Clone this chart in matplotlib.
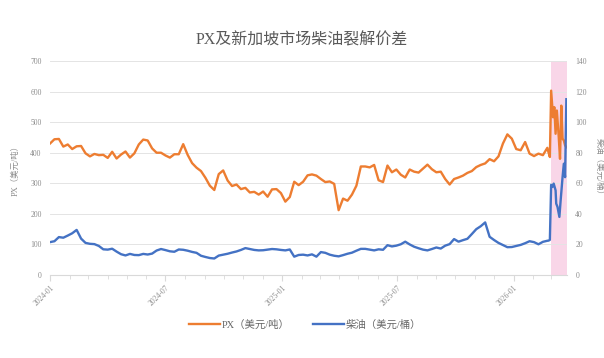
import matplotlib
matplotlib.use("Agg")
import matplotlib.pyplot as plt
import matplotlib.dates as mdates
from matplotlib.lines import Line2D
import pandas as pd

plt.rcParams['font.family'] = ['Liberation Serif', 'Noto Sans CJK SC', 'DejaVu Sans']

title = "PX及新加坡市场柴油裂解价差"
px_label = "PX（美元/吨）"
ds_label = "柴油（美元/桶）"

# weekly readings starting 2024-01-01
week_start = "2024-01-01"
px_weekly = [430, 444, 445, 420, 427, 412, 421, 422, 398, 388,
             396, 392, 393, 383, 403, 381, 394, 404, 384, 398,
             427, 443, 440, 414, 400, 400, 391, 384, 395, 395,
             428, 393, 366, 351, 340, 318, 292, 278, 330, 342,
             309, 291, 296, 281, 285, 270, 272, 263, 273, 256,
             280, 281, 268, 240, 255, 305, 294, 305, 326, 329,
             325, 314, 304, 306, 298, 212, 250, 243, 263, 292,
             355, 355, 352, 360, 310, 304, 358, 336, 345, 328,
             319, 345, 338, 335, 348, 361, 346, 336, 338, 314,
             296, 314, 319, 325, 334, 340, 353, 360, 365, 379,
             372, 388, 430, 460, 446, 412, 408, 435, 397, 389,
             397, 392, 416]
ds_weekly = [21.5, 22.1, 24.8, 24.4, 25.8, 27.3, 29.5, 23.8, 21.0, 20.4,
             20.2, 19.0, 16.8, 16.6, 17.2, 15.3, 13.6, 12.8, 13.8, 13.1,
             13.0, 13.8, 13.4, 14.0, 16.0, 17.0, 16.3, 15.5, 15.2, 16.7,
             16.5, 15.9, 15.1, 14.5, 12.6, 11.8, 11.1, 10.8, 12.7, 13.3,
             13.9, 14.7, 15.4, 16.4, 17.6, 17.0, 16.4, 16.1, 16.2, 16.6,
             17.0, 16.8, 16.4, 16.1, 16.7, 12.0, 13.1, 13.3, 12.8, 13.5,
             12.0, 15.0, 14.5, 13.3, 12.6, 12.2, 13.0, 13.9, 14.6, 15.9,
             17.1, 17.1, 16.6, 16.1, 16.8, 16.5, 19.5, 18.7, 19.2, 20.1,
             21.8, 20.0, 18.5, 17.5, 16.6, 16.1, 17.0, 18.0, 17.3, 19.2,
             20.2, 23.5, 21.8, 22.8, 23.7, 26.8, 30.0, 31.9, 34.4, 25.0,
             22.9, 21.0, 19.6, 18.2, 18.3, 19.0, 19.7, 20.8, 22.1, 21.5,
             20.1, 21.7, 22.4]

# daily readings around the March 2026 spike
px_spike_dates = ["2026-02-25", "2026-02-27", "2026-03-01", "2026-03-04", "2026-03-06",
                  "2026-03-08", "2026-03-10", "2026-03-13", "2026-03-15", "2026-03-17",
                  "2026-03-19", "2026-03-21", "2026-03-23", "2026-03-25"]
px_spike = [400, 386, 603, 516, 549, 462, 538, 451, 380, 554, 446, 440, 424, 418]
ds_spike_dates = ["2026-02-25", "2026-02-27", "2026-03-01", "2026-03-03", "2026-03-05",
                  "2026-03-08", "2026-03-09", "2026-03-11", "2026-03-14", "2026-03-16",
                  "2026-03-19", "2026-03-21", "2026-03-23", "2026-03-25"]
ds_spike = [22.5, 23.0, 59.0, 57.6, 59.8, 55.4, 46.7, 44.6, 38.0, 48.9, 64.0, 72.8, 64.0, 115.0]

highlight_start = "2026-02-28"
x_start, x_end = "2024-01-01", "2026-03-26"

weekly_dates = pd.date_range(week_start, periods=len(px_weekly), freq="7D")
px_dates = list(weekly_dates) + list(pd.to_datetime(px_spike_dates))
px_vals = px_weekly + px_spike
ds_dates = list(weekly_dates) + list(pd.to_datetime(ds_spike_dates))
ds_vals = ds_weekly + ds_spike

ORANGE = "#ED7D31"
BLUE = "#4472C4"
TXT = "#8C8C8C"
GRID = "#E4E4E4"

fig = plt.figure(figsize=(6.04, 3.58), dpi=100)
ax = fig.add_axes([50 / 604, 83 / 358, 517 / 604, 214 / 358])
ax2 = ax.twinx()

ax.axvspan(pd.Timestamp(highlight_start), pd.Timestamp(x_end), color="#F9D6E8", lw=0, zorder=0)
ax.plot(px_dates, px_vals, color=ORANGE, lw=1.7, zorder=3)
ax2.plot(ds_dates, ds_vals, color=BLUE, lw=1.7, zorder=3)

ax.set_xlim(pd.Timestamp(x_start), pd.Timestamp(x_end))
ax.set_ylim(0, 700)
ax2.set_ylim(0, 140)
ax.set_yticks(range(0, 701, 100))
ax2.set_yticks(range(0, 141, 20))
ax.grid(axis="y", color=GRID, lw=0.7)
ax.set_axisbelow(True)

ax.xaxis.set_major_locator(mdates.MonthLocator(bymonth=[1, 7]))
ax.xaxis.set_major_formatter(mdates.DateFormatter("%Y-%m"))
ax.xaxis.set_minor_locator(mdates.MonthLocator())
for lbl in ax.get_xticklabels():
    lbl.set_rotation(45)
    lbl.set_ha("right")
    lbl.set_rotation_mode("anchor")

for a in (ax, ax2):
    for s in a.spines.values():
        s.set_visible(False)
ax.spines["bottom"].set_visible(True)
ax.spines["bottom"].set_color("#D9D9D9")
ax.spines["bottom"].set_linewidth(0.8)

ax.tick_params(axis="x", which="major", length=4, color="#D9D9D9", labelsize=5.5, labelcolor=TXT, pad=2)
ax.tick_params(axis="x", which="minor", length=3, color="#D9D9D9")
ax.tick_params(axis="y", length=0, labelsize=5.5, labelcolor=TXT, pad=6)
ax2.tick_params(axis="y", length=0, labelsize=5.5, labelcolor=TXT, pad=6)

ax.set_ylabel(px_label, fontsize=6, color=TXT, labelpad=8)
ax2.set_ylabel(ds_label, fontsize=6, color=TXT, rotation=270, labelpad=12)

fig.text(0.5, 1 - 40 / 358, title, ha="center", va="center", fontsize=11.5, color="#595959")

handles = [Line2D([], [], color=ORANGE, lw=1.7), Line2D([], [], color=BLUE, lw=1.7)]
fig.legend(handles, [px_label, ds_label], loc="center", bbox_to_anchor=(305 / 604, 1 - 325 / 358),
           ncol=2, frameon=False, fontsize=7.5, handlelength=3.0, columnspacing=2.2,
           handletextpad=0.2, labelcolor="#666666")

fig.savefig("out.png", dpi=100)
